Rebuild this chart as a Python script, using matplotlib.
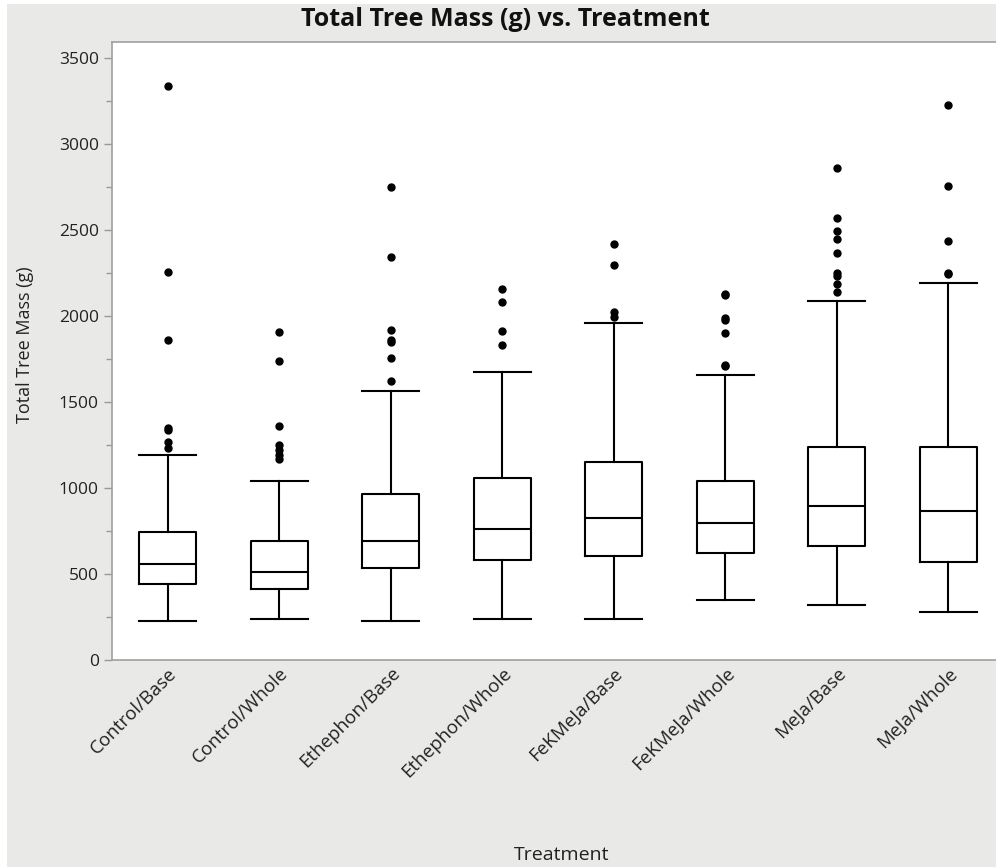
import matplotlib.pyplot as plt
from matplotlib.patches import Rectangle

plt.rcParams['font.family'] = ['Open Sans', 'DejaVu Sans']

treatments = ["Control/Base", "Control/Whole", "Ethephon/Base", "Ethephon/Whole",
              "FeKMeJa/Base", "FeKMeJa/Whole", "MeJa/Base", "MeJa/Whole"]
whisker_low = [226, 239, 226, 239, 239, 350, 319, 279]
q1 = [440, 410, 533, 583, 603, 624, 664, 571]
median = [561, 510, 691, 764, 827, 795, 898, 865]
q3 = [742, 691, 966, 1056, 1149, 1038, 1240, 1240]
whisker_high = [1189, 1038, 1564, 1677, 1959, 1655, 2090, 2190]
outliers = [
    [3337, 2255, 1858, 1350, 1340, 1265, 1232],
    [1908, 1737, 1363, 1252, 1219, 1194, 1169],
    [2748, 2343, 1918, 1858, 1848, 1758, 1624],
    [2155, 2084, 1911, 1831],
    [2416, 2296, 2024, 1994],
    [2130, 2125, 1989, 1979, 1901, 1715, 1707],
    [2862, 2567, 2497, 2447, 2366, 2250, 2235, 2188, 2142],
    [3226, 2758, 2437, 2250, 2243],
]

stats = []
for i, name in enumerate(treatments):
    stats.append({"label": name, "whislo": whisker_low[i], "q1": q1[i], "med": median[i],
                  "q3": q3[i], "whishi": whisker_high[i], "fliers": outliers[i]})

bg = "#e9e9e7"
fig = plt.figure(figsize=(9.96, 8.67), dpi=100, facecolor=bg)
fig.patches.append(Rectangle((0, 0), 7 / 996, 1, transform=fig.transFigure,
                             facecolor="white", edgecolor="none"))
fig.patches.append(Rectangle((0, 1 - 4 / 867), 1, 4 / 867, transform=fig.transFigure,
                             facecolor="white", edgecolor="none"))

ax = fig.add_axes([112 / 996, 1 - 660 / 867, 892 / 996, 618.5 / 867])
ax.set_facecolor("white")

line = dict(color="black", linewidth=1.5)
ax.bxp(stats, widths=0.51, boxprops=line, whiskerprops=line, capprops=line,
       medianprops=line, capwidths=0.51,
       flierprops=dict(marker="o", markerfacecolor="black", markeredgecolor="black",
                       markersize=5))

ax.set_xlim(0.5, 8.5)
ax.set_ylim(0, 3596)
ax.set_yticks(range(0, 3501, 500))
ax.set_yticks(range(250, 3500, 500), minor=True)
ax.tick_params(axis="y", which="both", colors="#999999", labelcolor="#222222",
               labelsize=12.5, length=6, width=1)
ax.tick_params(axis="y", which="minor", length=4)
ax.tick_params(axis="x", length=0, labelsize=13.5, labelcolor="#222222", pad=3)
ax.set_xticks(range(1, len(treatments) + 1))
ax.set_xticklabels(treatments, rotation=45, ha="right", rotation_mode="anchor")
for s in ax.spines.values():
    s.set_color("#a0a0a0")
    s.set_linewidth(1.2)

fig.text(505 / 996, 1 - 20 / 867, "Total Tree Mass (g) vs. Treatment", ha="center",
         va="center", fontsize=18, fontweight="bold", color="#111111")
fig.text(25 / 996, 1 - 345 / 867, "Total Tree Mass (g)", rotation=90, ha="center",
         va="center", fontsize=13, color="#222222")
fig.text(562 / 996, 1 - 855 / 867, "Treatment", ha="center", va="center",
         fontsize=14, color="#222222")

fig.savefig("out.png", dpi=100, facecolor=bg)
